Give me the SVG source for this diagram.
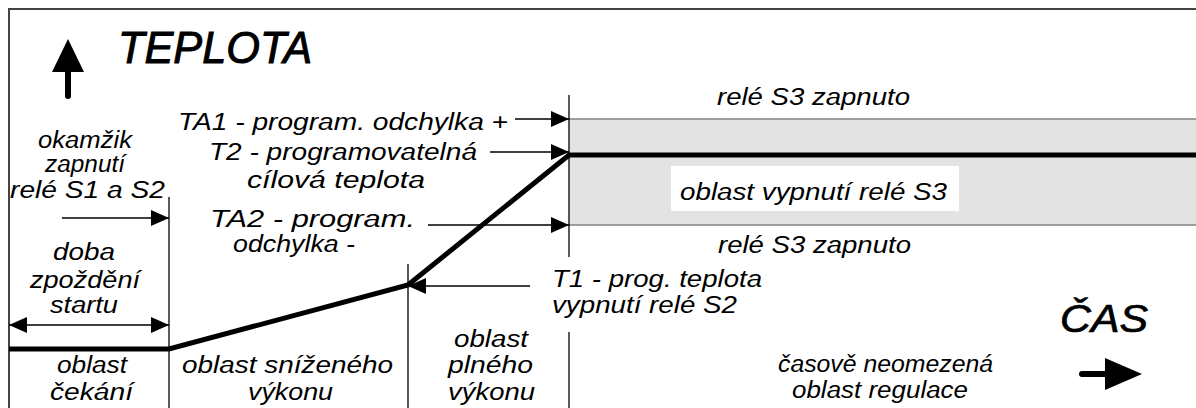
<svg xmlns="http://www.w3.org/2000/svg" width="1196" height="408" viewBox="0 0 1196 408">
<style>
text{font-family:"Liberation Sans",Arial,sans-serif;font-style:italic;font-size:23px;fill:#000}
.big{font-size:44px;stroke:#000;stroke-width:1}
.cas{font-size:38px;stroke:#000;stroke-width:0.7}
.thin{stroke:#000;stroke-width:1.5;fill:none}
.div{stroke:#000;stroke-width:1.3;fill:none}
.band{stroke:#808080;stroke-width:1.5}
</style>
<defs>
<marker id="ah" markerUnits="userSpaceOnUse" markerWidth="18" markerHeight="16" refX="18" refY="8" orient="auto-start-reverse" viewBox="0 0 18 16">
<path d="M0,0 L18,8 L0,16 z" fill="#000"/>
</marker>
</defs>
<rect width="1196" height="408" fill="#fff"/>
<g id="band">
<rect x="569" y="119" width="627" height="106" fill="#e3e3e3"/>
<line class="band" x1="569" y1="119" x2="1196" y2="119"/>
<line class="band" x1="569" y1="225" x2="1196" y2="225"/>
<rect x="671" y="166" width="288" height="45" fill="#fff"/>
</g>
<g id="frame">
<path d="M9,408 V9 H1196" stroke="#444" stroke-width="2" fill="none"/>
</g>
<g id="dividers">
<line class="div" x1="169" y1="197" x2="169" y2="408"/>
<line class="div" x1="408" y1="264" x2="408" y2="408"/>
<line class="div" x1="569" y1="95" x2="569" y2="257"/>
<line class="div" x1="569" y1="332" x2="569" y2="408"/>
</g>
<g id="curve">
<polyline points="9,349 169,349 408,285 569,155 1196,155" fill="none" stroke="#000" stroke-width="5" stroke-linejoin="miter"/>
</g>
<g id="connectors">
<line class="thin" x1="515" y1="119" x2="569" y2="119" marker-end="url(#ah)"/>
<line class="thin" x1="490" y1="152" x2="569" y2="152" marker-end="url(#ah)"/>
<line class="thin" x1="428" y1="225" x2="569" y2="225" marker-end="url(#ah)"/>
<line class="thin" x1="62" y1="218" x2="169" y2="218" marker-end="url(#ah)"/>
<line class="thin" x1="9" y1="325" x2="169" y2="325" marker-start="url(#ah)" marker-end="url(#ah)"/>
<line class="thin" x1="530" y1="286" x2="408" y2="286" marker-end="url(#ah)"/>
</g>
<g id="axis-teplota">
<line x1="68" y1="70" x2="68" y2="96" stroke="#000" stroke-width="6" stroke-linecap="round"/>
<polygon points="68,39 52,72 84,72" fill="#000"/>
<text class="big" x="118" y="63" textLength="194" lengthAdjust="spacingAndGlyphs">TEPLOTA</text>
</g>
<g id="axis-cas">
<text class="cas" x="1060" y="332" textLength="88" lengthAdjust="spacingAndGlyphs">ČAS</text>
<line x1="1082" y1="374" x2="1110" y2="374" stroke="#000" stroke-width="6" stroke-linecap="round"/>
<polygon points="1105,358 1142,374 1105,390" fill="#000"/>
</g>
<g id="ta1"><text x="178" y="130" textLength="330" lengthAdjust="spacingAndGlyphs">TA1 - program. odchylka +</text></g>
<g id="t2">
<text x="209" y="160" textLength="268" lengthAdjust="spacingAndGlyphs">T2 - programovatelná</text>
<text x="247" y="188" textLength="178" lengthAdjust="spacingAndGlyphs">cílová teplota</text>
</g>
<g id="ta2">
<text x="210" y="227" textLength="205" lengthAdjust="spacingAndGlyphs">TA2 - program.</text>
<text x="233" y="252" textLength="122" lengthAdjust="spacingAndGlyphs">odchylka -</text>
</g>
<g id="s3-top"><text x="717" y="105" textLength="193" lengthAdjust="spacingAndGlyphs">relé S3 zapnuto</text></g>
<g id="s3-off"><text x="680" y="200" textLength="267" lengthAdjust="spacingAndGlyphs">oblast vypnutí relé S3</text></g>
<g id="s3-bottom"><text x="718" y="253" textLength="193" lengthAdjust="spacingAndGlyphs">relé S3 zapnuto</text></g>
<g id="okamzik">
<text x="38" y="148" textLength="94" lengthAdjust="spacingAndGlyphs">okamžik</text>
<text x="45" y="172" textLength="80" lengthAdjust="spacingAndGlyphs">zapnutí</text>
<text x="10" y="198" textLength="155" lengthAdjust="spacingAndGlyphs">relé S1 a S2</text>
</g>
<g id="doba">
<text x="53" y="260" textLength="62" lengthAdjust="spacingAndGlyphs">doba</text>
<text x="30" y="288" textLength="110" lengthAdjust="spacingAndGlyphs">zpoždění</text>
<text x="50" y="313" textLength="68" lengthAdjust="spacingAndGlyphs">startu</text>
</g>
<g id="cekani">
<text x="57" y="373" textLength="70" lengthAdjust="spacingAndGlyphs">oblast</text>
<text x="50" y="400" textLength="83" lengthAdjust="spacingAndGlyphs">čekání</text>
</g>
<g id="snizeny">
<text x="182" y="373" textLength="211" lengthAdjust="spacingAndGlyphs">oblast sníženého</text>
<text x="248" y="400" textLength="85" lengthAdjust="spacingAndGlyphs">výkonu</text>
</g>
<g id="plny">
<text x="454" y="347" textLength="74" lengthAdjust="spacingAndGlyphs">oblast</text>
<text x="448" y="373" textLength="85" lengthAdjust="spacingAndGlyphs">plného</text>
<text x="448" y="400" textLength="87" lengthAdjust="spacingAndGlyphs">výkonu</text>
</g>
<g id="t1">
<text x="552" y="287" textLength="210" lengthAdjust="spacingAndGlyphs">T1 - prog. teplota</text>
<text x="552" y="313" textLength="185" lengthAdjust="spacingAndGlyphs">vypnutí relé S2</text>
</g>
<g id="regulace">
<text x="778" y="372" textLength="215" lengthAdjust="spacingAndGlyphs">časově neomezená</text>
<text x="792" y="398" textLength="176" lengthAdjust="spacingAndGlyphs">oblast regulace</text>
</g>
</svg>
